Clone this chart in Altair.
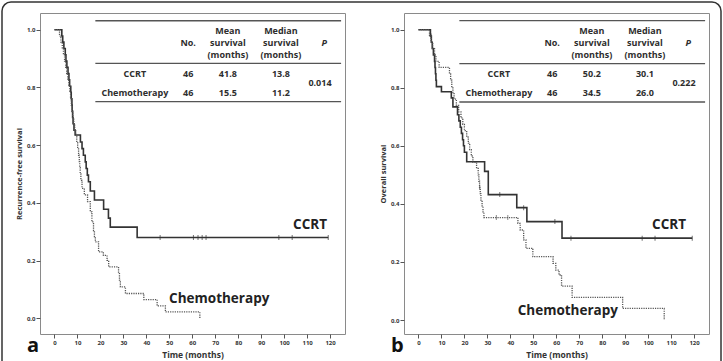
import altair as alt
import pandas as pd

# ---------------- data ----------------
# Recurrence-free survival (months, Kaplan-Meier estimate after each step)
rfs_ccrt_t = [0, 3.2, 3.6, 4.1, 4.7, 5.0, 5.4, 5.9, 6.3, 6.6, 7.1, 7.3, 7.6, 7.7, 7.9, 8.1, 8.5, 9.0,
              11.3, 12.0, 12.6, 13.4, 13.8, 14.3, 14.8, 15.6, 17.4, 21.4, 23.5, 24.3, 36.0, 119.2]
rfs_ccrt_s = [1.0, 0.978, 0.957, 0.935, 0.913, 0.891, 0.870, 0.848, 0.826, 0.804, 0.783, 0.761, 0.739,
              0.717, 0.696, 0.674, 0.652, 0.635, 0.611, 0.588, 0.565, 0.542, 0.519, 0.496, 0.473,
              0.441, 0.410, 0.378, 0.347, 0.316, 0.280, 0.280]
rfs_ccrt_censored = [46.0, 60.5, 62.5, 64.3, 66.0, 97.7, 103.5, 119.2]

rfs_chemo_t = [0, 2.2, 2.8, 3.4, 3.9, 4.4, 4.9, 5.3, 5.8, 6.2, 6.6, 7.0, 7.3, 7.7, 8.0, 8.4, 8.8, 9.3,
               9.7, 10.1, 10.5, 10.8, 11.0, 11.2, 11.5, 12.0, 13.0, 14.4, 15.6, 16.3, 17.0, 17.4, 17.8,
               19.2, 21.3, 22.9, 23.6, 27.9, 28.3, 28.7, 30.9, 38.9, 44.7, 48.3, 63.3]
rfs_chemo_s = [1.0, 0.978, 0.957, 0.935, 0.913, 0.891, 0.870, 0.848, 0.826, 0.804, 0.783, 0.761, 0.739,
               0.717, 0.696, 0.674, 0.652, 0.630, 0.609, 0.587, 0.565, 0.543, 0.522, 0.500, 0.478,
               0.450, 0.428, 0.404, 0.369, 0.334, 0.304, 0.283, 0.265, 0.230, 0.218, 0.201, 0.178,
               0.155, 0.132, 0.109, 0.086, 0.065, 0.043, 0.022, 0.0]
rfs_chemo_censored = []

# Overall survival
os_ccrt_t = [0, 5.2, 5.6, 6.0, 6.5, 7.0, 7.2, 7.4, 7.6, 7.8, 10.0, 14.3, 15.0, 17.0, 17.6, 18.2, 18.7,
             19.2, 19.6, 20.0, 21.0, 28.8, 30.4, 42.8, 47.2, 62.5, 119.2]
os_ccrt_s = [1.0, 0.978, 0.957, 0.935, 0.913, 0.891, 0.870, 0.848, 0.826, 0.804, 0.786, 0.765, 0.734,
             0.707, 0.686, 0.664, 0.643, 0.621, 0.600, 0.578, 0.545, 0.512, 0.432, 0.387, 0.339,
             0.282, 0.282]
os_ccrt_censored = [5.5, 35.4, 45.8, 59.4, 66.4, 97.4, 103.0, 119.2]

os_chemo_t = [0, 4.8, 5.5, 6.2, 7.0, 7.6, 9.0, 13.5, 14.0, 14.5, 15.0, 15.5, 16.5, 17.5, 18.5, 19.3,
              20.0, 21.0, 21.7, 22.3, 23.0, 23.7, 25.3, 26.0, 26.3, 26.6, 26.9, 27.2, 27.7, 28.1, 28.5,
              43.3, 44.3, 45.8, 46.8, 49.8, 58.6, 59.8, 61.2, 62.3, 66.9, 88.9, 107.0]
os_chemo_s = [1.0, 0.978, 0.957, 0.935, 0.913, 0.891, 0.870, 0.848, 0.826, 0.804, 0.783, 0.761, 0.739,
              0.717, 0.696, 0.674, 0.652, 0.630, 0.609, 0.587, 0.565, 0.543, 0.522, 0.500, 0.478,
              0.457, 0.435, 0.413, 0.391, 0.370, 0.353, 0.333, 0.310, 0.276, 0.247, 0.218, 0.195,
              0.172, 0.155, 0.117, 0.078, 0.040, 0.0]
os_chemo_censored = [26.6, 33.9, 38.9]

# Summary tables
groups = ["CCRT", "Chemotherapy"]
rfs_n = ["46", "46"]
rfs_mean = ["41.8", "15.5"]
rfs_median = ["13.8", "11.2"]
rfs_p = "0.014"
os_n = ["46", "46"]
os_mean = ["50.2", "34.5"]
os_median = ["30.1", "26.0"]
os_p = "0.222"

x_ticks = list(range(0, 121, 10))
y_ticks = [0.0, 0.2, 0.4, 0.6, 0.8, 1.0]

# ---------------- styling ----------------
FONT = "Open Sans"
W, H = 305, 321
X_DOMAIN = [-6.3, 126.5]
SOLID = "#333333"
DOTTED = "#555555"


def surv_at(ts, ss, t):
    val = ss[0]
    for ti, si in zip(ts, ss):
        if ti <= t:
            val = si
    return val


def curve_frame(ts, ss):
    return pd.DataFrame({"t": ts, "s": ss})


def censor_frame(ts, ss, cens):
    return pd.DataFrame({"t": cens, "s": [surv_at(ts, ss, c) for c in cens]})


def make_panel(curves, table, y_domain, y_title, letter, ccrt_pos, chemo_pos):
    xs = alt.Scale(domain=X_DOMAIN, nice=False, zero=False)
    ys = alt.Scale(domain=y_domain, nice=False, zero=False)
    x_axis = alt.Axis(values=x_ticks, title="Time (months)", format="d", labelOverlap=False)
    y_axis = alt.Axis(values=y_ticks, title=y_title, format=".1f", labelOverlap=False)

    layers = []
    # survival curves
    for (ts, ss, cens, dotted) in curves:
        props = dict(interpolate="step-after", color=DOTTED if dotted else SOLID,
                     strokeWidth=1.3 if dotted else 1.6)
        if dotted:
            props["strokeDash"] = [1.2, 1.1]
        line = alt.Chart(curve_frame(ts, ss)).mark_line(**props).encode(
            x=alt.X("t:Q", scale=xs, axis=x_axis),
            y=alt.Y("s:Q", scale=ys, axis=y_axis),
        )
        layers.append(line)
        if cens:
            ticks = alt.Chart(censor_frame(ts, ss, cens)).mark_tick(
                orient="vertical", size=5, thickness=1,
                color=DOTTED if dotted else SOLID).encode(
                x=alt.X("t:Q", scale=xs, axis=x_axis), y=alt.Y("s:Q", scale=ys, axis=y_axis))
            layers.append(ticks)

    # summary table
    n, mean, median, p = table
    col_x = {"label": 35.0, "n": 58.2, "mean": 75.5, "median": 98.6, "p": 117.5, "pval": 115.6}
    head_y = [0.997, 0.955, 0.913]
    row_y = [0.848, 0.782]
    cells = []
    cells.append(("No.", col_x["n"], head_y[1]))
    for line_txt, yy in zip(["Mean", "survival", "(months)"], head_y):
        cells.append((line_txt, col_x["mean"], yy))
    for line_txt, yy in zip(["Median", "survival", "(months)"], head_y):
        cells.append((line_txt, col_x["median"], yy))
    for i, g in enumerate(groups):
        cells.append((g, col_x["label"], row_y[i]))
        cells.append((n[i], col_x["n"], row_y[i]))
        cells.append((mean[i], col_x["mean"], row_y[i]))
        cells.append((median[i], col_x["median"], row_y[i]))
    cells.append((p, col_x["pval"], (row_y[0] + row_y[1]) / 2))
    cell_df = pd.DataFrame(cells, columns=["txt", "t", "s"])
    layers.append(alt.Chart(cell_df).mark_text(
        font=FONT, fontSize=9, fontWeight="bold", color="#2e2e2e", baseline="middle", align="center"
    ).encode(x=alt.X("t:Q", scale=xs, axis=x_axis), y=alt.Y("s:Q", scale=ys, axis=y_axis), text="txt:N"))
    p_df = pd.DataFrame({"txt": ["P"], "t": [col_x["p"]], "s": [head_y[1]]})
    layers.append(alt.Chart(p_df).mark_text(
        font=FONT, fontSize=9, fontWeight="bold", fontStyle="italic", color="#2e2e2e",
        baseline="middle", align="center"
    ).encode(x=alt.X("t:Q", scale=xs, axis=x_axis), y=alt.Y("s:Q", scale=ys, axis=y_axis), text="txt:N"))

    rules_df = pd.DataFrame({"t": [17.8] * 3, "t2": [124.8] * 3, "s": [1.031, 0.883, 0.751]})
    layers.append(alt.Chart(rules_df).mark_rule(color="#555555", strokeWidth=1.3).encode(
        x=alt.X("t:Q", scale=xs, axis=x_axis), x2="t2:Q", y=alt.Y("s:Q", scale=ys, axis=y_axis)))

    # curve labels
    lab_df = pd.DataFrame({"txt": ["CCRT", "Chemotherapy"],
                           "t": [ccrt_pos[0], chemo_pos[0]],
                           "s": [ccrt_pos[1], chemo_pos[1]]})
    layers.append(alt.Chart(lab_df).mark_text(
        font=FONT, fontSize=13.5, fontWeight="bold", color="#222222", align="left",
        baseline="alphabetic"
    ).encode(x=alt.X("t:Q", scale=xs, axis=x_axis), y=alt.Y("s:Q", scale=ys, axis=y_axis), text="txt:N"))

    # panel letter
    layers.append(alt.Chart(pd.DataFrame({"k": [0]})).mark_text(
        text=letter, font=FONT, fontSize=20, fontWeight="bold", color="#111111",
        align="left", baseline="alphabetic"
    ).encode(x=alt.value(-13), y=alt.value(339)))

    return alt.layer(*layers).properties(width=W, height=H)


left = make_panel(
    curves=[(rfs_ccrt_t, rfs_ccrt_s, rfs_ccrt_censored, False),
            (rfs_chemo_t, rfs_chemo_s, rfs_chemo_censored, True)],
    table=(rfs_n, rfs_mean, rfs_median, rfs_p),
    y_domain=[-0.0544, 1.0579],
    y_title="Recurrence-free survival",
    letter="a",
    ccrt_pos=(103.9, 0.308),
    chemo_pos=(49.9, 0.054),
)

# rounded outer frame of the figure, drawn in the first panel's coordinates
frame = alt.Chart(pd.DataFrame({"k": [0]})).mark_rect(
    fill=None, stroke="#333333", strokeWidth=1.5, cornerRadius=9
).encode(x=alt.value(-38), x2=alt.value(681), y=alt.value(-11), y2=alt.value(360))
left = alt.layer(frame, left)

right = make_panel(
    curves=[(os_ccrt_t, os_ccrt_s, os_ccrt_censored, False),
            (os_chemo_t, os_chemo_s, os_chemo_censored, True)],
    table=(os_n, os_mean, os_median, os_p),
    y_domain=[-0.0482, 1.0575],
    y_title="Overall survival",
    letter="b",
    ccrt_pos=(101.7, 0.312),
    chemo_pos=(43.2, 0.017),
)

chart = alt.hconcat(left, right, spacing=59, bounds="flush").properties(
    padding={"left": 0, "top": 0, "right": 0, "bottom": 0},
    background="white",
).configure_view(
    stroke="#8a8a8a", strokeWidth=1
).configure_axis(
    domain=False, grid=False, tickColor="#555555", labelColor="#333333",
    labelFont=FONT, labelFontSize=6, labelFontWeight="bold", labelOverlap=False,
    titleFont=FONT, titleColor="#333333", titleFontWeight="bold"
).configure_axisX(
    tickSize=4, labelPadding=1, titleFontSize=8.5, titlePadding=5
).configure_axisY(
    tickSize=4, labelPadding=1, titleFontSize=7.5, titlePadding=3
)

chart.save("out.html", embed_options={"renderer": "svg", "actions": False})
